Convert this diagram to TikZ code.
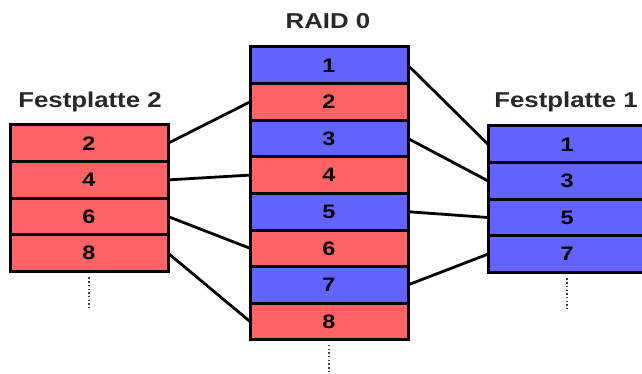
\documentclass[tikz,border=0pt]{standalone}
\usepackage{fontspec}
\setmainfont{Liberation Sans}
\newfontfamily\widefont[FakeStretch=1.2]{Liberation Sans}
\definecolor{stripred}{RGB}{255,99,99}
\definecolor{stripblue}{RGB}{99,99,255}
\definecolor{titlegray}{RGB}{40,40,40}
\begin{document}
\begin{tikzpicture}[x=1pt,y=-1pt,
  block/.style={draw=black,line width=3pt,minimum width=158pt,minimum height=36.6pt,
    inner sep=0pt,outer sep=0pt,font=\widefont\fontsize{19.5}{19.5}\selectfont\bfseries,anchor=north},
  redblock/.style={block,fill=stripred},
  blueblock/.style={block,fill=stripblue},
  disktitle/.style={font=\widefont\fontsize{21.5}{21.5}\selectfont\bfseries,text=titlegray,anchor=base,inner sep=0pt},
  link/.style={line width=2.8pt,black},
  more/.style={line width=1.6pt,black!75,dash pattern=on 1.5pt off 2.2pt}]
\useasboundingbox (0,0) rectangle (642,374);
\clip (0,0) rectangle (642,374);

% disk 2 (even blocks)
\node[redblock] (L2) at (89,125) {2};
\node[redblock] (L4) at (89,161.6) {4};
\node[redblock] (L6) at (89,198.2) {6};
\node[redblock] (L8) at (89,234.8) {8};

% striped volume
\node[blueblock] (M1) at (329,47) {1};
\node[redblock]  (M2) at (329,83.6) {2};
\node[blueblock] (M3) at (329,120.2) {3};
\node[redblock]  (M4) at (329,156.8) {4};
\node[blueblock] (M5) at (329,193.4) {5};
\node[redblock]  (M6) at (329,230) {6};
\node[blueblock] (M7) at (329,266.6) {7};
\node[redblock]  (M8) at (329,303.2) {8};

% disk 1 (odd blocks)
\node[blueblock] (R1) at (567,126) {1};
\node[blueblock] (R3) at (567,162.6) {3};
\node[blueblock] (R5) at (567,199.2) {5};
\node[blueblock] (R7) at (567,235.8) {7};

% titles
\node[disktitle] (T2) at (90,108) {Festplatte 2};
\node[disktitle] (T0) at (328,29) {RAID 0};
\node[disktitle] (T1) at (566,108) {Festplatte 1};

% block mapping
\draw[link] (L2.east) -- (M2.west);
\draw[link] (L4.east) -- (M4.west);
\draw[link] (L6.east) -- (M6.west);
\draw[link] (L8.east) -- (M8.west);
\draw[link] (M1.east) -- (R1.west);
\draw[link] (M3.east) -- (R3.west);
\draw[link] (M5.east) -- (R5.west);
\draw[link] (M7.east) -- (R7.west);

% continuation marks
\coordinate (L8c) at ([yshift=-6pt]L8.south);
\coordinate (M8c) at ([yshift=-5pt]M8.south);
\coordinate (R7c) at ([yshift=-6pt]R7.south);
\draw[more] (L8c) -- ++(0,31);
\draw[more] (M8c) -- ++(0,29);
\draw[more] (R7c) -- ++(0,31);
\end{tikzpicture}
\end{document}
